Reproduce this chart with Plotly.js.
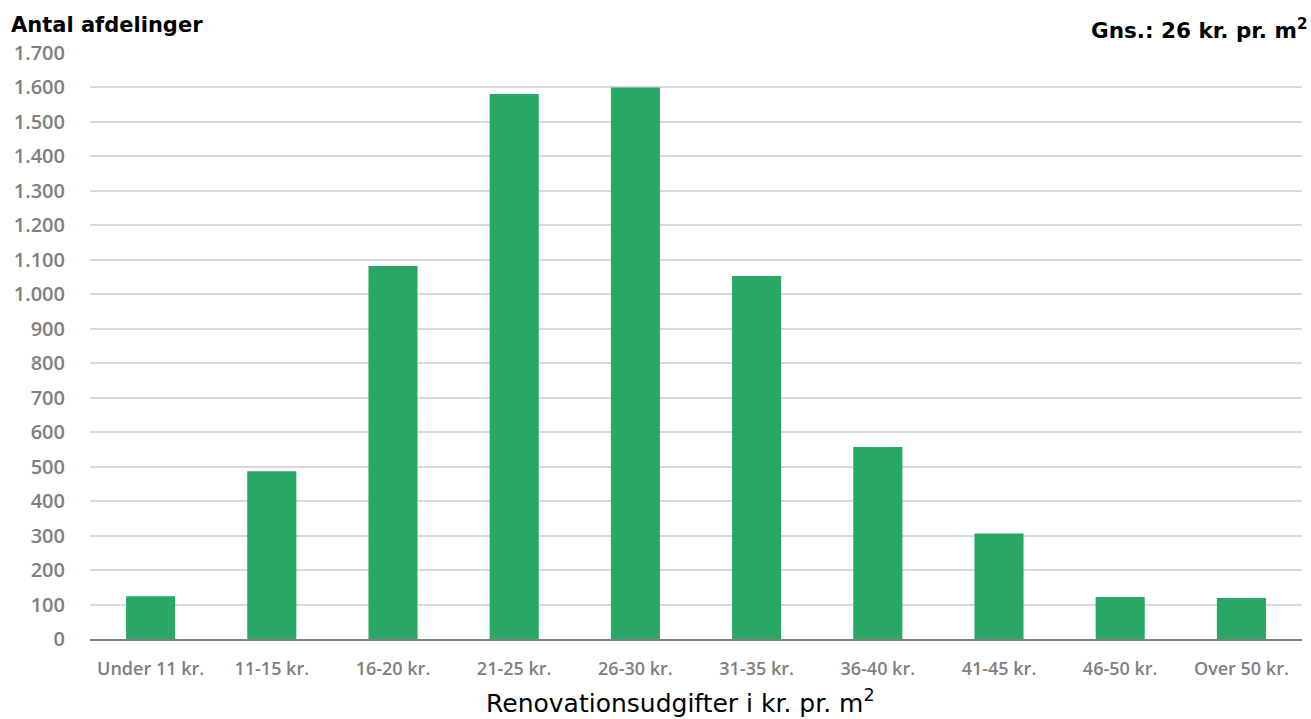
<!DOCTYPE html>
<html>
<head>
<meta charset="utf-8">
<script src="https://cdn.plot.ly/plotly-3.0.1.min.js"></script>
<style>html,body{margin:0;padding:0;background:#fff;}#chart{width:1311px;height:719px;}</style>
</head>
<body>
<div id="chart"></div>
<script>
const categories = ["Under 11 kr.", "11-15 kr.", "16-20 kr.", "21-25 kr.", "26-30 kr.", "31-35 kr.", "36-40 kr.", "41-45 kr.", "46-50 kr.", "Over 50 kr."];
const counts = [124, 487, 1082, 1581, 1600, 1053, 557, 306, 122, 119];
const yTickVals = [0, 100, 200, 300, 400, 500, 600, 700, 800, 900, 1000, 1100, 1200, 1300, 1400, 1500, 1600, 1700];

const trace = {
  type: 'bar',
  x: categories,
  y: counts,
  marker: {color: '#28a765', line: {width: 0}},
  hoverinfo: 'x+y'
};

const layout = {
  width: 1311, height: 719,
  margin: {l: 90, r: 9, t: 53, b: 80},
  paper_bgcolor: '#ffffff', plot_bgcolor: '#ffffff',
  separators: ',.',
  bargap: 0.595,
  showlegend: false,
  xaxis: {
    type: 'category',
    tickfont: {family: 'Open Sans', size: 18, color: '#808080', weight: 600},
    showgrid: false,
    showline: true, linecolor: '#808080', linewidth: 2,
    ticks: '', ticklabelstandoff: 12
  },
  yaxis: {
    range: [0, 1700],
    tickvals: yTickVals,
    tickformat: ',d',
    tickfont: {family: 'Open Sans', size: 20, color: '#808080', weight: 600},
    showgrid: true, gridcolor: '#d9d9d9', gridwidth: 1.5,
    zeroline: false, showline: false,
    ticks: '', ticklabelstandoff: 24
  },
  annotations: [
    {xref: 'paper', yref: 'paper', x: -0.067, y: 1.0, xanchor: 'left', yanchor: 'bottom', yshift: 14,
     text: '<b>Antal afdelinger</b>', showarrow: false, font: {family: 'DejaVu Sans', size: 21, color: '#000000'}},
    {xref: 'paper', yref: 'paper', x: 1.006, y: 1.0, xanchor: 'right', yanchor: 'bottom', yshift: 8,
     text: '<b>Gns.: 26 kr. pr. m<sup>2</sup></b>', showarrow: false, font: {family: 'DejaVu Sans', size: 21.5, color: '#000000'}},
    {xref: 'paper', yref: 'paper', x: 0.4876, y: 0, xanchor: 'center', yanchor: 'middle', yshift: -62,
     text: 'Renovationsudgifter i kr. pr. m<sup>2</sup>', showarrow: false, font: {family: 'DejaVu Sans', size: 25, color: '#000000'}}
  ]
};

Plotly.newPlot('chart', [trace], layout, {displayModeBar: false, responsive: false});
</script>
</body>
</html>
